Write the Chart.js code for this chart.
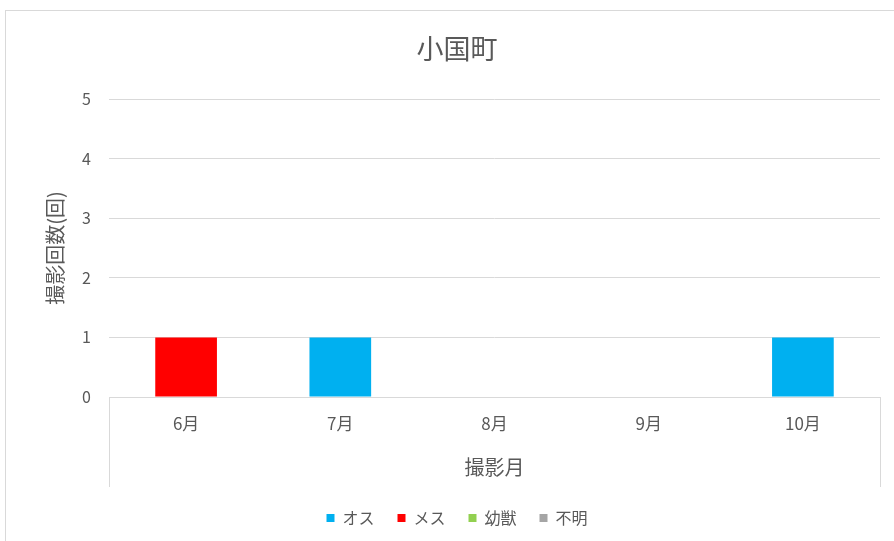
<!DOCTYPE html>
<html lang="ja">
<head>
<meta charset="utf-8">
<title>小国町</title>
<script src="https://cdn.jsdelivr.net/npm/chart.js@4/dist/chart.umd.min.js"></script>
<style>
  html, body { margin: 0; padding: 0; background: #fff; overflow: hidden; }
  #frame {
    position: absolute; left: 5px; top: 10px;
    width: 902px; height: 543px;
    border: 1px solid #d9d9d9;
  }
  #chart { display: block; }
</style>
</head>
<body>
<div id="frame"><canvas id="chart" width="902" height="543"></canvas></div>
<script>
// --- データ ---
const months = ['6月', '7月', '8月', '9月', '10月'];
const male    = [0, 1, 0, 0, 1];   // オス
const female  = [1, 0, 0, 0, 0];   // メス
const juvenile = [0, 0, 0, 0, 0];  // 幼獣
const unknown = [0, 0, 0, 0, 0];   // 不明
const yTicks = [0, 1, 2, 3, 4, 5];

const TEXT = '#595959';
const LINE = '#d9d9d9';
const FONT = "'Noto Sans CJK JP', 'Noto Sans', sans-serif";

// 横軸の両端の縦線（軸ラベル領域の枠）
const axisFrame = {
    id: 'axisFrame',
    afterDraw(chart) {
        const { ctx, chartArea, scales } = chart;
        ctx.save();
        ctx.strokeStyle = LINE;
        ctx.lineWidth = 1;
        ctx.beginPath();
        [chartArea.left, chartArea.right].forEach(x => {
            const px = Math.round(x) + 0.5;
            ctx.moveTo(px, chartArea.bottom);
            ctx.lineTo(px, scales.x.bottom);
        });
        ctx.stroke();
        ctx.restore();
    }
};

function bar(label, data, color) {
    return { label, data, backgroundColor: color, borderWidth: 0, categoryPercentage: 1, barPercentage: 0.40 };
}

new Chart(document.getElementById('chart'), {
    type: 'bar',
    data: {
        labels: months,
        datasets: [
            bar('オス', male, '#00B0F0'),
            bar('メス', female, '#FF0000'),
            bar('幼獣', juvenile, '#92D050'),
            bar('不明', unknown, '#A5A5A5')
        ]
    },
    options: {
        responsive: false,
        animation: false,
        layout: { padding: { top: 0, left: 28, right: 28, bottom: 18 } },
        plugins: {
            title: {
                display: true,
                text: '小国町',
                color: TEXT,
                font: { family: FONT, size: 27, weight: 'normal' },
                padding: { top: 21.5, bottom: 34.1 }
            },
            legend: {
                position: 'bottom',
                labels: {
                    color: TEXT,
                    font: { family: FONT, size: 16 },
                    boxWidth: 8,
                    boxHeight: 8,
                    padding: 23
                }
            },
            tooltip: { enabled: false }
        },
        scales: {
            x: {
                stacked: true,
                grid: { display: false, drawTicks: false },
                border: { color: LINE },
                ticks: { color: TEXT, font: { family: FONT, size: 17 }, padding: 16.8 },
                title: {
                    display: true,
                    text: '撮影月',
                    color: TEXT,
                    font: { family: FONT, size: 20 },
                    padding: { top: 0, bottom: 8 }
                },
                afterFit(scale) { scale.height = 90; }
            },
            y: {
                stacked: true,
                min: yTicks[0],
                max: yTicks[yTicks.length - 1],
                afterBuildTicks(scale) { scale.ticks = yTicks.map(v => ({ value: v })); },
                grid: { color: LINE, drawTicks: false },
                border: { display: false },
                ticks: { color: TEXT, font: { family: FONT, size: 16 }, padding: 18 },
                title: {
                    display: true,
                    text: '撮影回数(回)',
                    color: TEXT,
                    font: { family: FONT, size: 20 },
                    padding: { top: 9.6, bottom: 0 }
                },
                afterFit(scale) { scale.width = 75; }
            }
        }
    },
    plugins: [axisFrame]
});
</script>
</body>
</html>
